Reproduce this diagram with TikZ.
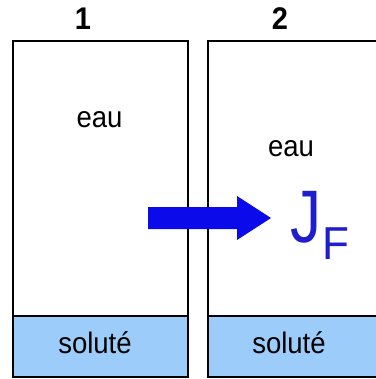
\documentclass[tikz,border=0pt]{standalone}
\usepackage{fontspec}
\setmainfont{Liberation Sans}
\definecolor{solutefill}{RGB}{155,204,250}
\definecolor{fluxblue}{RGB}{10,10,235}
\definecolor{labelblue}{RGB}{30,30,205}
% slightly tall lettering used for all labels
\newcommand{\tallText}[1]{\scalebox{1}[1.08]{#1}}
\begin{document}
\begin{tikzpicture}[x=1pt,y=-1pt,
  wall/.style={line width=2.8pt,line join=miter},
  lbl/.style={inner sep=0pt,anchor=base,font=\fontsize{27.5}{30}\selectfont},
  num/.style={inner sep=0pt,anchor=base,font=\fontsize{29}{30}\selectfont\bfseries}]
\useasboundingbox (0,0) rectangle (375,379);
% solute layers
\fill[solutefill] (13,316) rectangle (188,377);
\fill[solutefill] (208,316) rectangle (376,377);
% compartment 1
\draw[wall] (13,41) rectangle (188,377);
\draw[wall] (13,316) -- (188,316);
% compartment 2 (open to the right)
\draw[wall] (376,41) -- (208,41) -- (208,377) -- (376,377);
\draw[wall] (208,316) -- (376,316);
% labels
\node[num] (n1) at (83,30) {\tallText{1}};
\node[num] (n2) at (280,30) {\tallText{2}};
\node[lbl] (eau1) at (99.5,128) {\tallText{eau}};
\node[lbl] (eau2) at (291,157) {\tallText{eau}};
\node[lbl] (sol1) at (95,353) {\tallText{soluté}};
\node[lbl] (sol2) at (289,353) {\tallText{soluté}};
% flux arrow
\fill[fluxblue] (148,207) -- (237,207) -- (237,196) -- (271,218) -- (237,240)
  -- (237,229) -- (148,229) -- cycle;
% flux label J_F
\node[inner sep=0pt,anchor=base west,text=labelblue,
  font=\fontsize{62}{64}\selectfont] (jJ) at (290,242)
  {\scalebox{1}[1.2]{J}};
\node[inner sep=0pt,anchor=base west,text=labelblue,
  font=\fontsize{44}{46}\selectfont] (jF) at (322,259)
  {\scalebox{1}[1.05]{F}};
\end{tikzpicture}
\end{document}
